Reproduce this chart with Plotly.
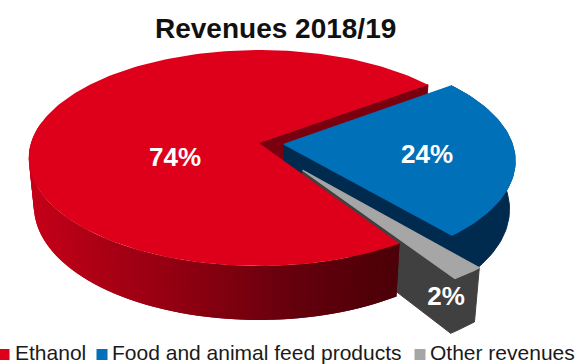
import numpy as np
import plotly.graph_objects as go

# Revenue split for the 2018/19 financial year
categories = ["Ethanol", "Food and animal feed products", "Other revenues"]
shares = [74, 24, 2]
top_colors = ["#de001a", "#0070b8", "#a6a6a6"]
wall_colors = ["#7a0010", "#002b4f", "#404040"]
explode = [0.0, 0.11, 0.31]
title_text = "Revenues 2018/19"

# Projection of the tilted disc onto the page, in page pixels
CX, CY = 259.0, 143.0
RX, RY = 228.0, 105.9
TILT = -0.139
START_DEG = 57.0
DEPTH_BASE, DEPTH_FRONT = 47.0, 7.0
TAPER = 0.978


def project(u, v, lower=False):
    """Map disc coordinates to the page, optionally on the underside of the disc."""
    u, v = np.asarray(u, float), np.asarray(v, float)
    w = 1 + TILT * v
    x = CX + RX * u / w
    y = CY + RY * v / w
    if lower:
        x = CX + TAPER * (x - CX)
        y = y + DEPTH_BASE + DEPTH_FRONT * v
    return x, y


def arc(a0, a1, step=1.5):
    n = max(2, int(abs(a1 - a0) / step) + 1)
    return np.radians(np.linspace(a0, a1, n))


def offset(i, spans):
    mid = np.radians((spans[i][0] + spans[i][1]) / 2)
    return explode[i] * np.cos(mid), explode[i] * np.sin(mid)


def poly(fig, x, y, color, edge=0):
    fig.add_trace(go.Scatter(
        x=list(x) + [x[0]], y=list(y) + [y[0]], mode="lines", fill="toself",
        fillcolor=color, line=dict(color=color, width=edge),
        hoverinfo="skip", showlegend=False,
    ))


def top_face(fig, i, spans, edge=0):
    a0, a1 = spans[i]
    ou, ov = offset(i, spans)
    t = arc(a0, a1)
    u = np.r_[ou, ou + np.cos(t)]
    v = np.r_[ov, ov + np.sin(t)]
    x, y = project(u, v)
    poly(fig, x, y, top_colors[i], edge=edge)


def cut_wall(fig, i, spans, angle, color):
    ou, ov = offset(i, spans)
    t = np.radians(angle)
    u = np.array([ou, ou + np.cos(t)])
    v = np.array([ov, ov + np.sin(t)])
    x0, y0 = project(u, v)
    x1, y1 = project(u, v, lower=True)
    # A thin outline in the wall colour closes the hairline where wall meets rim
    poly(fig, np.r_[x0, x1[::-1]], np.r_[y0, y1[::-1]], color, edge=1)


def flat_rim(fig, i, spans, color):
    ou, ov = offset(i, spans)
    t = arc(*spans[i])
    u, v = ou + np.cos(t), ov + np.sin(t)
    x0, y0 = project(u, v)
    x1, y1 = project(u, v, lower=True)
    poly(fig, np.r_[x0, x1[::-1]], np.r_[y0, y1[::-1]], color, edge=1)


def red_shade(x):
    # Rim shading of the large slice darkens from left to right
    stops_x = [30, 100, 200, 290, 400]
    r = np.interp(x, stops_x, [196, 170, 135, 100, 74])
    b = np.interp(x, stops_x, [24, 20, 16, 12, 7])
    return f"rgb({r:.0f},0,{b:.0f})"


def shaded_rim(fig, i, spans, a0, a1):
    # Bands are drawn from the far end forward, each overlapping the next to avoid seams
    ou, ov = offset(i, spans)
    t = arc(a0, a1, step=2.0)
    for k in range(len(t) - 1, 0, -1):
        tt = t[max(k - 2, 0):k + 1]
        u, v = ou + np.cos(tt), ov + np.sin(tt)
        x0, y0 = project(u, v)
        x1, y1 = project(u, v, lower=True)
        poly(fig, np.r_[x0, x1[::-1]], np.r_[y0, y1[::-1]], red_shade(float(x0[-1])))


# Slice spans follow the shares, clockwise from the start angle
edges = START_DEG + np.cumsum([0] + shares) * 3.6
spans = [(edges[k], edges[k + 1]) for k in range(len(shares))]

fig = go.Figure()

# Painter's order: back walls, then the exploded slices, then the large slice
cut_wall(fig, 0, spans, spans[0][1], wall_colors[0])

flat_rim(fig, 1, spans, wall_colors[1])
cut_wall(fig, 1, spans, spans[1][1], wall_colors[1])
top_face(fig, 1, spans, edge=1.2)

flat_rim(fig, 2, spans, wall_colors[2])
cut_wall(fig, 2, spans, spans[2][1], wall_colors[2])
top_face(fig, 2, spans, edge=1.2)

shaded_rim(fig, 0, spans, spans[0][0], spans[0][0] + 135)
top_face(fig, 0, spans)

# Percentage labels
label_x = [175, 427, 446]
label_y = [159, 156.5, 298.5]
fig.add_trace(go.Scatter(
    x=label_x, y=label_y, mode="text",
    text=[f"{s}%" for s in shares],
    textposition="middle center",
    textfont=dict(family="Liberation Sans", size=26, color="white", weight="bold"),
    hoverinfo="skip", showlegend=False,
))

# Legend row along the bottom edge
key_x = [4, 102, 420]
key_text_x = [15, 112, 430]
key_y = 354.5
fig.add_trace(go.Scatter(
    x=key_x, y=[key_y] * 3, mode="markers",
    marker=dict(symbol="square", size=11, color=top_colors, line=dict(width=0)),
    hoverinfo="skip", showlegend=False,
))
fig.add_trace(go.Scatter(
    x=key_text_x, y=[key_y] * 3, mode="text",
    text=categories, textposition="middle right",
    textfont=dict(family="Liberation Sans", size=21, color="#1a1a1a"),
    hoverinfo="skip", showlegend=False, cliponaxis=False,
))

fig.update_layout(
    width=576, height=364, autosize=False,
    margin=dict(l=0, r=0, t=0, b=0),
    paper_bgcolor="white", plot_bgcolor="white",
    xaxis=dict(range=[0, 576], visible=False, fixedrange=True),
    yaxis=dict(range=[364, 0], visible=False, fixedrange=True),
    annotations=[dict(
        x=275, y=28, xref="x", yref="y", text=f"<b>{title_text}</b>",
        showarrow=False, xanchor="center", yanchor="middle",
        font=dict(family="Liberation Sans", size=28, color="#111111"),
    )],
)

fig.write_html("out.html", config=dict(displayModeBar=False))
